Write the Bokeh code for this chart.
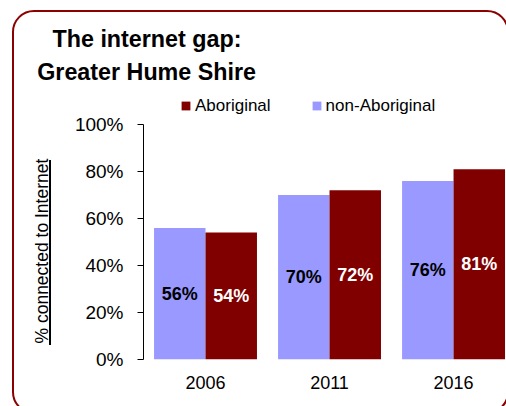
from bokeh.plotting import figure
from bokeh.models import (ColumnDataSource, Range1d, FixedTicker, Legend, Title,
                          LegendItem, PrintfTickFormatter, InlineStyleSheet)
from bokeh.transform import dodge
from bokeh.core.properties import value
from bokeh.embed import file_html
from bokeh.resources import INLINE

# ---- data ----
years = ["2006", "2011", "2016"]
aboriginal = [54, 72, 81]
non_aboriginal = [56, 70, 76]
y_ticks = [0, 20, 40, 60, 80, 100]
series_names = ["Aboriginal", "non-Aboriginal"]
title_lines = ["The internet gap:", "Greater Hume Shire"]
y_label = "% connected to Internet"

FONT = "Liberation Sans"
AB = "#800000"
NON = "#9999FF"
BORDER = "#8B0000"

xpos = list(range(len(years)))
src = ColumnDataSource(dict(
    x=xpos,
    ab=aboriginal,
    non=non_aboriginal,
    ab_mid=[v / 2 for v in aboriginal],
    non_mid=[v / 2 for v in non_aboriginal],
    ab_lbl=[f"{v}%" for v in aboriginal],
    non_lbl=[f"{v}%" for v in non_aboriginal],
))

W, H = 506, 406
p = figure(width=W, height=H, output_backend="svg", toolbar_location=None,
           x_range=Range1d(-0.5, 2.427), y_range=Range1d(0, 114.47),
           min_border_left=143, min_border_right=0,
           min_border_top=90, min_border_bottom=47)
p.outline_line_color = None
p.xgrid.visible = False
p.ygrid.visible = False
p.background_fill_color = "white"
p.border_fill_color = "white"

bw = 0.415
r_non = p.vbar(x=dodge("x", -bw / 2, range=p.x_range), top="non", width=bw,
               source=src, fill_color=NON, line_color=None)
r_ab = p.vbar(x=dodge("x", bw / 2, range=p.x_range), top="ab", width=bw,
              source=src, fill_color=AB, line_color=None)

p.text(x=dodge("x", -bw / 2, range=p.x_range), y="non_mid", text="non_lbl", source=src,
       text_align="center", text_baseline="middle", text_font=value(FONT),
       text_font_style="bold", text_font_size="18px", text_color="black")
p.text(x=dodge("x", bw / 2, range=p.x_range), y="ab_mid", text="ab_lbl", source=src,
       text_align="center", text_baseline="middle", text_font=value(FONT),
       text_font_style="bold", text_font_size="18px", text_color="white")

# x axis
p.xaxis.ticker = FixedTicker(ticks=xpos)
p.xaxis.major_label_overrides = {i: y for i, y in zip(xpos, years)}
p.xaxis.axis_line_color = None
p.xaxis.major_tick_in = 0
p.xaxis.major_tick_out = 0
p.xaxis.minor_tick_line_color = None
p.xaxis.major_label_standoff = 16
p.xaxis.major_label_text_font = FONT
p.xaxis.major_label_text_font_size = "18px"
p.xaxis.major_label_text_color = "black"

# y axis
p.yaxis.ticker = FixedTicker(ticks=y_ticks)
p.yaxis.bounds = (0, 100)
p.yaxis.formatter = PrintfTickFormatter(format="%d%%")
p.yaxis.axis_line_color = "black"
p.yaxis.major_tick_line_color = "black"
p.yaxis.major_tick_in = 0
p.yaxis.major_tick_out = 6
p.yaxis.minor_tick_line_color = None
p.yaxis.major_label_standoff = 14
p.yaxis.major_label_text_font = FONT
p.yaxis.major_label_text_font_size = "19px"
p.yaxis.major_label_text_color = "black"

# y label as a rotated title on the left
p.add_layout(Title(text=y_label, align="left", offset=16, standoff=39,
                   text_font=FONT, text_font_size="17.5px", text_font_style="normal",
                   text_color="black"), "left")

# chart title, two lines
p.title.text = title_lines[0]
p.title.align = "left"
p.title.offset = -91
p.title.standoff = -2
p.title.text_font = FONT
p.title.text_font_size = "23.3px"
p.title.text_font_style = "bold"
p.title.text_color = "black"
p.add_layout(Title(text=title_lines[1], align="left", offset=-106.3, standoff=12,
                   text_font=FONT, text_font_size="23.3px", text_font_style="bold",
                   text_color="black"), "above")

# legend
legend = Legend(items=[LegendItem(label=series_names[0], renderers=[r_ab]),
                       LegendItem(label=series_names[1], renderers=[r_non])],
                orientation="horizontal", location=(37, 243.5),
                glyph_width=11, glyph_height=11, label_standoff=4, spacing=40,
                padding=0, margin=0, border_line_color=None,
                background_fill_alpha=0, label_text_font=FONT,
                label_text_font_size="17px", label_text_color="black")
p.add_layout(legend, "center")

# rounded frame around the chart and underline of the y label
css = f"""
:host {{ position: relative; overflow: hidden; }}
:host::before {{ content: ""; position: absolute; left: 49px; top: 160px; width: 1.5px;
  height: 185px; background: #000; pointer-events: none; z-index: 10; }}
:host::after {{ content: ""; position: absolute; left: 12px; top: 10px; width: 497px;
  height: 404px; box-sizing: border-box; border: 2.5px solid {BORDER};
  border-radius: 22px; pointer-events: none; z-index: 10; }}
"""
p.stylesheets = [InlineStyleSheet(css=css)]

open("out.html", "w").write(file_html(p, INLINE))
